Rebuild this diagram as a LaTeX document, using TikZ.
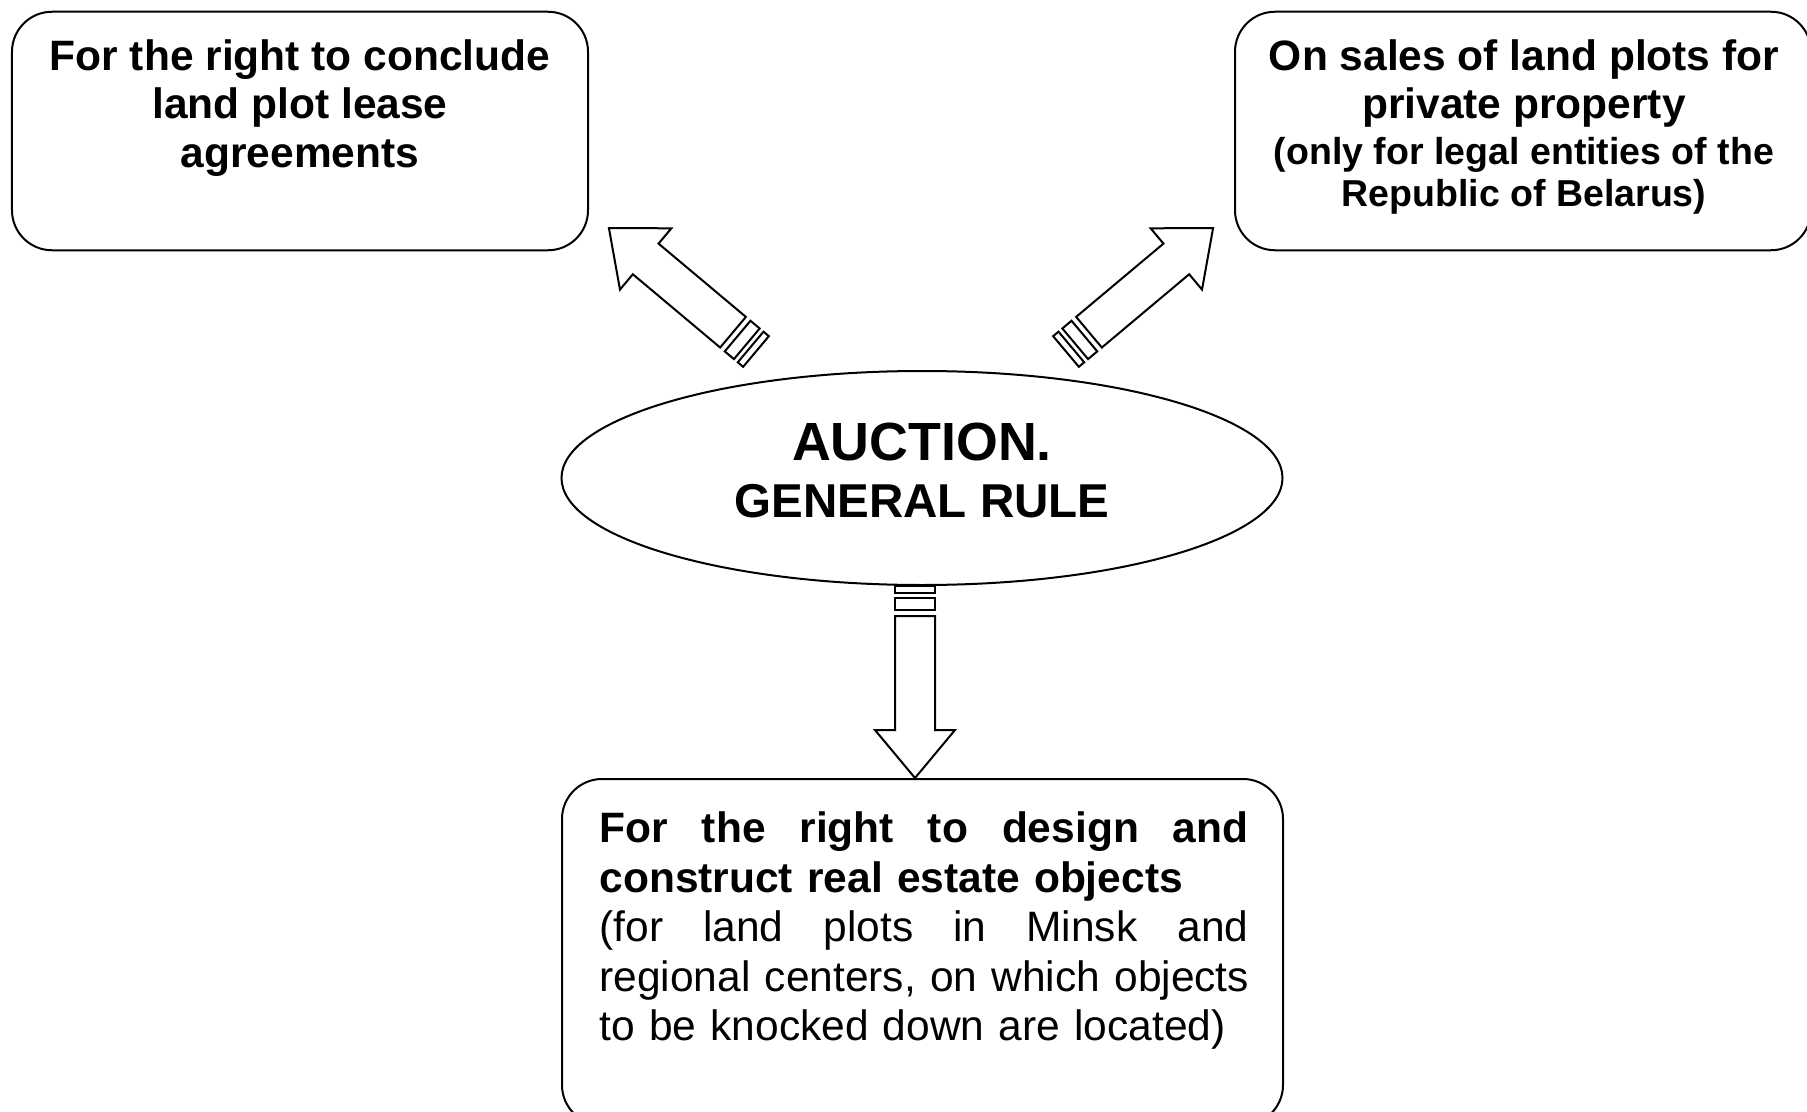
\documentclass[tikz,border=0pt]{standalone}
\usepackage{fontspec}
\setmainfont{Liberation Sans}
\usetikzlibrary{shapes.geometric,calc}

% a line spread evenly across the text width of the lower box
\newcommand{\fullline}[1]{\leavevmode\hbox to 259.6pt{#1}}
\newcommand{\gap}{ \hfil }

\tikzset{
  outline/.style={draw=black,line width=0.8pt},
  topicbox/.style={outline,rounded corners=16pt,inner sep=0pt,
    minimum width=230.4pt,minimum height=95.4pt},
  bigbox/.style={outline,rounded corners=16pt,inner sep=0pt,
    minimum width=288.4pt,minimum height=138.4pt},
  hub/.style={outline,ellipse,inner sep=0pt,
    minimum width=288.4pt,minimum height=85.6pt},
  headtext/.style={inner sep=0pt,align=center,
    font=\bfseries\fontsize{17}{19.4}\selectfont},
  notetext/.style={inner sep=0pt,align=center,
    font=\bfseries\fontsize{15}{16.8}\selectfont},
  % hollow block arrow with two stub bars at its tail; local +x points to the tip
  pics/blockarrow/.style={code={
    \draw[outline] (0,-20) rectangle (7,20);
    \draw[outline] (12,-20) rectangle (24,20);
    \draw[outline] (30,-20) -- (144,-20) -- (144,-40) -- (192,0)
      -- (144,40) -- (144,20) -- (30,20) -- cycle;
  }}
}

\begin{document}
\begin{tikzpicture}[x=0.4pt,y=-0.4pt]
\useasboundingbox (0,0) rectangle (1807,1112);

% boxes
\node[topicbox] (lease) at (300,131) {};
\node[topicbox] (sale) at (1523,131) {};
\node[hub] (auction) at (922,478) {};
\node[bigbox] (build) at (922.5,952) {};

% texts
\node[headtext,anchor=north] (leaseText) at (300,39)
  {For the right to conclude\\land plot lease\\agreements};
\node[headtext,anchor=north] (saleText) at (1524,39)
  {On sales of land plots for\\private property};
\node[notetext,anchor=north] (saleNote) at (1524,137)
  {(only for legal entities of the\\Republic of Belarus)};
\node[inner sep=0pt,anchor=base,font=\bfseries\fontsize{21.5}{24}\selectfont]
  (auctionTitle) at (922,460) {AUCTION.};
\node[inner sep=0pt,anchor=base,font=\bfseries\fontsize{19}{22}\selectfont]
  (auctionRule) at (922,517) {GENERAL RULE};
\node[inner sep=0pt,anchor=north west,text width=259.6pt,
  font=\fontsize{17}{19.8}\selectfont] (buildText) at (599,811.5)
  {\fullline{\bfseries For\gap the\gap right\gap to\gap design\gap and}\\
   {\bfseries construct real estate objects}\\
   \fullline{(for\gap land\gap plots\gap in\gap Minsk\gap and}\\
   \fullline{regional\gap centers,\gap on\gap which\gap objects}\\
   to be knocked down are located)};

% arrows leaving the hub
\coordinate (tailL) at (756,351.5);
\coordinate (tailR) at (1066,351.5);
\coordinate (tailD) at (915,586);
\pic[rotate=140] at (tailL) {blockarrow};
\pic[rotate=40] at (tailR) {blockarrow};
\pic[rotate=-90] at (tailD) {blockarrow};
\end{tikzpicture}
\end{document}
